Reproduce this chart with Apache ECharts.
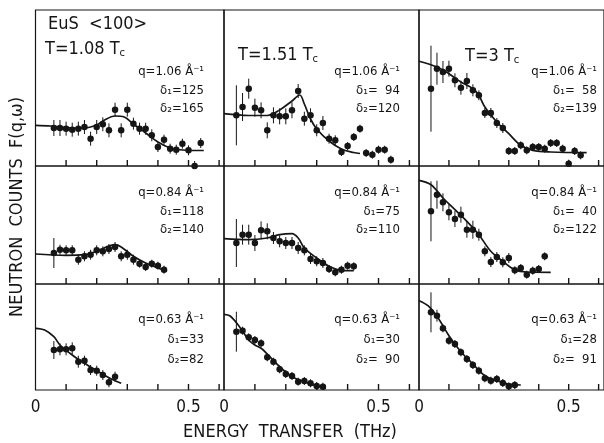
<!DOCTYPE html>
<html>
<head>
<meta charset="utf-8">
<script src="https://cdn.jsdelivr.net/npm/echarts@6/dist/echarts.min.js"></script>
<style>
html, body { margin: 0; padding: 0; background: #fff; }
#chart { width: 604px; height: 443px; }
</style>
</head>
<body>
<div id="chart"></div>
<script>
// energy transfer (THz) of the measured points, counts and error bars, panel by panel
// row 1: q = 1.06, row 2: q = 0.84, row 3: q = 0.63 ; columns: T = 1.08, 1.51, 3 Tc
const e1 = [0.06,0.08,0.10,0.12,0.14,0.16,0.18,0.20,0.22,0.24,0.26,0.28,0.30,0.32,0.34,0.36,0.38,0.40,0.42,0.44,0.46,0.48,0.50,0.52,0.54];
const c1 = [38,38,37.3,36.3,37.3,39,27.3,39,41.7,35.7,56.3,35.7,56.3,42.3,37.3,37.3,30.7,19,26.3,17.3,16.3,22.3,15.7,0,23];
const s1 = [8,8,7,7,7,7,7,7,7,7,7,7,7,6,6,6,6,5,5,5,5,5,5,5,5];
const fit1x = [0,0.05,0.10,0.16,0.20,0.22,0.26,0.29,0.32,0.36,0.40,0.44,0.48,0.55];
const fit1y = [40.7,40,38.5,38,41,45,50,49,42,33,24,18,16,15.5];

const e2 = [0.04,0.06,0.08,0.10,0.12,0.14,0.16,0.18,0.20,0.22,0.24,0.26,0.28,0.30,0.32,0.34,0.36,0.38,0.40,0.42,0.44,0.46,0.48,0.50,0.52,0.54];
const c2 = [50.7,59,77.3,58.3,55.7,35.7,50.7,49.7,49.7,55.7,75,47.3,50.7,35.7,43,27.3,25.7,14,20,29,37.3,13,11.3,16.3,16.3,6.3];
const s2 = [30,14,10,9,8,8,8,8,8,8,7,7,7,6,7,5,5,4,4,4,4,4,4,4,4,4];
const fit2x = [0,0.08,0.14,0.18,0.22,0.245,0.26,0.28,0.30,0.34,0.38,0.42,0.44];
const fit2y = [52.3,50.5,50.5,56,65,71,62,47,37,25,17,13.5,12.5];

const e3 = [0.04,0.06,0.08,0.10,0.12,0.14,0.16,0.18,0.20,0.22,0.24,0.26,0.28,0.30,0.32,0.34,0.36,0.38,0.40,0.42,0.44,0.46,0.48,0.50,0.52,0.54];
const c3 = [77.3,97.3,94,97.3,85.7,78.3,85,75.7,70.7,53,53,43,38,15,15,20.7,15.7,19,19,17.3,23,23,17.3,2.3,15,10.7];
const s3 = [43,16,11,8,7,7,8,6,5,5,5,5,5,4,4,4,4,4,4,4,4,4,4,4,4,4];
const fit3x = [0,0.06,0.10,0.14,0.18,0.20,0.22,0.26,0.30,0.34,0.38,0.44,0.56];
const fit3y = [104.7,99,92.3,84,77.3,70.7,59,44,32.3,20.7,15.7,14,13.3];

const e4 = [0.06,0.08,0.10,0.12,0.14,0.16,0.18,0.20,0.22,0.24,0.26,0.28,0.30,0.32,0.34,0.36,0.38,0.40,0.42];
const c4 = [31,34.3,33.7,33.7,24.3,27.7,29.3,33.7,32.7,35,37,27.7,29.3,24.3,20.3,17,20.3,18.3,14.3];
const s4 = [15,5,5,5,5,5,5,5,5,5,5,5,5,5,4,4,4,4,4];
const fit4x = [0,0.10,0.16,0.20,0.26,0.28,0.32,0.36,0.40,0.43];
const fit4y = [30,28.7,29.3,32.7,39.3,37,27.7,21,16,12.7];

const e5 = [0.04,0.06,0.08,0.10,0.12,0.14,0.16,0.18,0.20,0.22,0.24,0.26,0.28,0.30,0.32,0.34,0.36,0.38,0.40,0.42];
const c5 = [41,49.3,49.3,41,53.7,52.7,46,42.7,41,41,36,33.7,25,22.7,21,15,11.7,14.3,18.3,17.7];
const s5 = [24,10,10,8,9,8,6,6,6,6,6,5,5,5,5,4,4,4,4,4];
const fit5x = [0,0.08,0.14,0.18,0.22,0.24,0.26,0.30,0.34,0.38,0.42];
const fit5y = [45.3,44.3,46,49.3,50.3,46,36,26,17.7,13.7,13.3];

const e6 = [0.04,0.06,0.08,0.10,0.12,0.14,0.16,0.18,0.20,0.22,0.24,0.26,0.28,0.30,0.32,0.34,0.36,0.38,0.40,0.42];
const c6 = [72.7,89.3,81.7,71.7,65,69.3,54.3,54.3,49.3,32.7,22,27,21.7,26,13.7,16,9.3,13.3,15,27.7];
const s6 = [30,14,9,8,8,8,8,9,6,5,5,5,5,5,4,4,4,4,4,4];
const fit6x = [0,0.04,0.08,0.12,0.16,0.20,0.24,0.28,0.32,0.36,0.44];
const fit6y = [103.7,99.3,86,74.3,62.7,49.3,32.7,22.7,14.3,12,11.7];

const e7 = [0.06,0.08,0.10,0.12,0.14,0.16,0.18,0.20,0.22,0.24,0.26];
const c7 = [40,40.7,40.7,41.7,28.3,29.3,20,19.3,15,7.7,13.3];
const s7 = [9,6,6,6,6,5,5,5,5,5,5];
const fit7x = [0,0.03,0.06,0.08,0.12,0.16,0.20,0.24,0.28];
const fit7y = [61.7,60,53.3,45,35,26.7,19.3,12.3,6.7];

const e8 = [0.04,0.06,0.08,0.10,0.12,0.14,0.16,0.18,0.20,0.22,0.24,0.26,0.28,0.30,0.32];
const c8 = [58.3,59.3,52.7,50,46.7,32.7,28.3,20.7,16,14,8.3,9,6.7,4,3.3];
const s8 = [20,4,4,4,4,4,4,4,4,4,4,4,4,4,4];
const fit8x = [0,0.02,0.05,0.08,0.10,0.12,0.14,0.18,0.22,0.26,0.30,0.33];
const fit8y = [75.7,74,63.3,50,45,41.7,36,23.3,13.3,8.3,4,1.7];

const e9 = [0.04,0.06,0.08,0.10,0.12,0.14,0.16,0.18,0.20,0.22,0.24,0.26,0.28,0.30,0.32];
const c9 = [77.7,74.3,61.7,49.3,46,37.7,31,25,19.3,11.7,9.3,11,7,3.7,5];
const s9 = [20,6,4,4,4,4,4,4,4,4,4,4,4,4,4];
const fit9x = [0,0.03,0.06,0.10,0.14,0.18,0.22,0.26,0.30,0.34];
const fit9y = [89.3,84.3,73.7,54.3,38.3,26,14.3,9.3,6,5];

// tick marks on the energy axis (THz)
const tickValues = [0.1, 0.2, 0.3, 0.4, 0.5, 0.6];

// labels
const temps = ['1.08', '1.51', '3'];
const qValues = ['1.06', '0.84', '0.63'];
const delta1 = [['125', '\u200794', '\u200758'], ['118', '75', '\u200740'], ['33', '30', '28']];
const delta2 = [['165', '120', '139'], ['140', '110', '122'], ['82', '\u200790', '\u200791']];

// layout of the 3 x 3 panels
const colLeft = [35.5, 224, 419];
const colWidth = [188.5, 195, 190];
const colMax = [0.616, 0.631, 0.618];
const rowTop = [10, 166, 284];
const rowHeight = [156, 118, 106];
const textRight = [204, 400, 597];
const textRows = [[72, 91, 109], [193, 212, 230], [320, 340, 360]];

const panels = [
    [e1, c1, s1, fit1x, fit1y], [e2, c2, s2, fit2x, fit2y], [e3, c3, s3, fit3x, fit3y],
    [e4, c4, s4, fit4x, fit4y], [e5, c5, s5, fit5x, fit5y], [e6, c6, s6, fit6x, fit6y],
    [e7, c7, s7, fit7x, fit7y], [e8, c8, s8, fit8x, fit8y], [e9, c9, s9, fit9x, fit9y]
];

const ink = '#151515';
const font = "'DejaVu Sans Condensed', 'DejaVu Sans', sans-serif";

const chart = echarts.init(document.getElementById('chart'));

let grid = [], xAxis = [], yAxis = [], series = [], graphic = [];

panels.forEach((p, i) => {
    const row = Math.floor(i / 3), col = i % 3;
    grid.push({
        left: colLeft[col], top: rowTop[row], width: colWidth[col], height: rowHeight[row],
        show: true, borderColor: ink, borderWidth: 1.2
    });
    xAxis.push({
        gridIndex: i, type: 'value', min: 0, max: colMax[col], interval: 0.1,
        axisLine: { show: false },
        axisTick: { show: false },
        splitLine: { show: false },
        axisLabel: {
            show: row === 2, color: ink, fontSize: 17, fontFamily: font, margin: 9,
            showMaxLabel: false,
            formatter: v => (Math.abs(v) < 1e-6 ? '0' : (Math.abs(v - 0.5) < 1e-6 ? '0.5' : ''))
        }
    });
    yAxis.push({
        gridIndex: i, type: 'value', min: 0, max: rowHeight[row],
        axisLine: { show: false }, axisTick: { show: false },
        axisLabel: { show: false }, splitLine: { show: false }
    });

    const pts = p[0].map((x, k) => [x, p[1][k], p[2][k]]);
    series.push({
        type: 'custom', xAxisIndex: i, yAxisIndex: i, clip: true,
        data: pts,
        renderItem: function (params, api) {
            const x = api.value(0), y = api.value(1), d = api.value(2);
            const a = api.coord([x, y + d]);
            const b = api.coord([x, Math.max(0, y - d)]);
            return {
                type: 'line',
                shape: { x1: a[0], y1: a[1], x2: b[0], y2: b[1] },
                style: { stroke: ink, lineWidth: 1 }
            };
        }
    });
    series.push({
        type: 'scatter', xAxisIndex: i, yAxisIndex: i,
        symbolSize: 6.5, itemStyle: { color: ink, opacity: 1 },
        data: pts.map(d => [d[0], d[1]])
    });
    series.push({
        type: 'line', xAxisIndex: i, yAxisIndex: i,
        smooth: 0.35, showSymbol: false, symbol: 'none',
        lineStyle: { color: ink, width: 1.7 },
        data: p[3].map((x, k) => [x, p[4][k]])
    });

    // q and delta labels of the panel
    const tr = textRows[row];
    const txt = (y, s) => ({
        type: 'text', x: textRight[col], y: y,
        style: {
            text: s, fill: ink, font: '13px ' + font,
            textAlign: 'right', textVerticalAlign: 'middle'
        }
    });
    graphic.push(txt(tr[0], 'q=' + qValues[row] + ' Å\u207B\u00B9'));
    graphic.push(txt(tr[1], 'δ\u2081=' + delta1[row][col]));
    graphic.push(txt(tr[2], 'δ\u2082=' + delta2[row][col]));
});

// temperature labels and sample name
const tempPos = [[45, 49], [238, 55], [465, 56]];
temps.forEach((t, col) => {
    graphic.push({
        type: 'text', x: tempPos[col][0], y: tempPos[col][1],
        style: {
            text: 'T=' + t + ' T{sub|c}', fill: ink, font: '18px ' + font,
            textVerticalAlign: 'middle',
            rich: { sub: { fontSize: 11, fontFamily: font, fill: ink, padding: [9, 0, 0, 0] } }
        }
    });
});
graphic.push({
    type: 'text', x: 48, y: 24,
    style: { text: 'EuS  <100>', fill: ink, font: '18px ' + font, textVerticalAlign: 'middle' }
});
graphic.push({
    type: 'text', x: 290, y: 432,
    style: {
        text: 'ENERGY  TRANSFER  (THz)', fill: ink, font: '18px ' + font,
        textAlign: 'center', textVerticalAlign: 'middle'
    }
});
graphic.push({
    type: 'text', x: 17, y: 207, rotation: Math.PI / 2,
    style: {
        text: 'NEUTRON  COUNTS  F(q,ω)', fill: ink, font: '18px ' + font,
        textAlign: 'center', textVerticalAlign: 'middle'
    }
});

chart.setOption({
    backgroundColor: '#fff',
    animation: false,
    grid: grid,
    xAxis: xAxis,
    yAxis: yAxis,
    series: series,
    graphic: graphic
});

// inward ticks along each panel's bottom edge, placed through the panel's own axes
panels.forEach((p, i) => {
    const col = i % 3;
    tickValues.filter(v => v < colMax[col]).forEach(v => {
        const pt = chart.convertToPixel({ xAxisIndex: i, yAxisIndex: i }, [v, 0]);
        graphic.push({
            type: 'line', z: 100, silent: true,
            shape: { x1: pt[0], y1: pt[1], x2: pt[0], y2: pt[1] - 6 },
            style: { stroke: ink, lineWidth: 1.4 }
        });
    });
});
chart.setOption({ graphic: graphic });
</script>
</body>
</html>
